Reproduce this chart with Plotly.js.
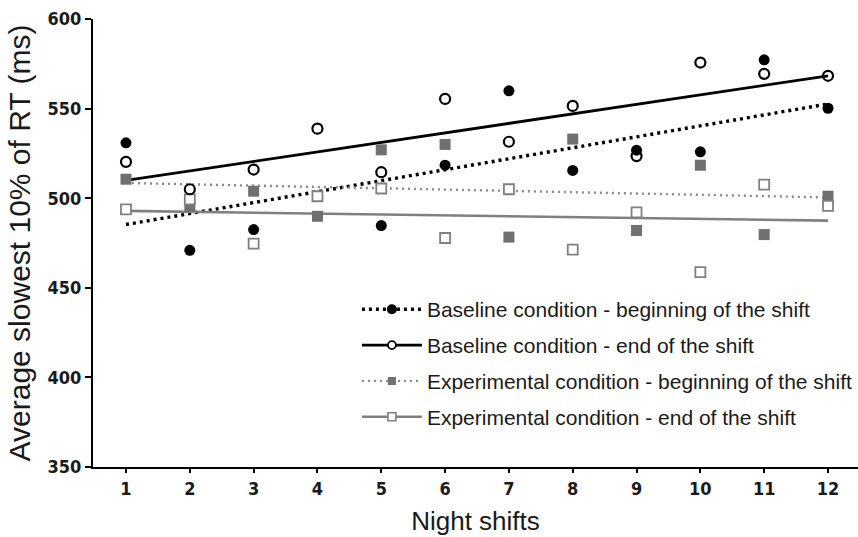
<!DOCTYPE html>
<html>
<head>
<meta charset="utf-8">
<script src="https://cdn.plot.ly/plotly-3.0.1.min.js"></script>
<style>
html,body{margin:0;padding:0;background:#fff;}
#chart{width:858px;height:537px;}
</style>
</head>
<body>
<div id="chart"></div>
<script>
// Night shift numbers
var shifts = [1, 2, 3, 4, 5, 6, 7, 8, 9, 10, 11, 12];
var tickLabels = ["1", "2", "3", "4", "5", "6", "7", "8", "9", "10", "11", "12"];

// Average slowest 10% of RT (ms)
var baselineBeginning = [530.9, 470.9, 482.5, null, 484.7, 518.4, 559.9, 515.5, 526.8, 525.9, 577.2, 550.2];
var baselineEnd = [520.3, 505.0, 516.0, 538.8, 514.5, 555.4, 531.5, 551.5, 523.5, 575.7, 569.4, 568.3];
var experimentalBeginning = [510.6, 495.7, 503.9, 489.9, 527.0, 530.0, 478.3, 533.0, 482.0, 518.4, 479.7, 501.1];
var experimentalEnd = [493.8, 499.4, 474.6, 501.1, 505.4, 477.8, 505.0, 471.3, 492.1, 458.7, 507.6, 495.7];

// Linear trend lines (values at first and last shift)
var trendX = [1, 12];
var baselineBeginningTrend = [485.3, 552.6];
var baselineEndTrend = [509.9, 568.3];
var experimentalBeginningTrend = [508.5, 500.4];
var experimentalEndTrend = [492.9, 487.5];

var seriesNames = [
  "Baseline condition - beginning of the shift",
  "Baseline condition - end of the shift",
  "Experimental condition - beginning of the shift",
  "Experimental condition - end of the shift"
];

var BLACK = "#000000";
var GRAY_FILL = "#707070";
var GRAY_LINE = "#808080";
var GRAY_DOT = "#8a8a8a";

var styles = [
  {line: {color: BLACK, width: 3.4, dash: "3px,4px"}, marker: {symbol: "circle", color: BLACK, size: 11, line: {width: 0}}, legMarker: {symbol: "circle", color: BLACK, size: 10, line: {width: 0}}},
  {line: {color: BLACK, width: 2.8, dash: "solid"}, marker: {symbol: "circle-open", color: BLACK, size: 10, line: {width: 2.2, color: BLACK}}, legMarker: {symbol: "circle", color: "#ffffff", size: 8, line: {width: 1.8, color: BLACK}}},
  {line: {color: GRAY_DOT, width: 2.4, dash: "2px,4px"}, marker: {symbol: "square", color: GRAY_FILL, size: 11, line: {width: 0}}, legMarker: {symbol: "square", color: GRAY_FILL, size: 8, line: {width: 0}}},
  {line: {color: GRAY_LINE, width: 2.6, dash: "solid"}, marker: {symbol: "square", color: "#ffffff", size: 10, line: {width: 1.8, color: GRAY_LINE}}, legMarker: {symbol: "square", color: "#ffffff", size: 8, line: {width: 1.6, color: GRAY_LINE}}}
];

var values = [baselineBeginning, baselineEnd, experimentalBeginning, experimentalEnd];
var trends = [baselineBeginningTrend, baselineEndTrend, experimentalBeginningTrend, experimentalEndTrend];

var traces = [];
// trend lines first (underneath)
for (var i = 0; i < 4; i++) {
  traces.push({
    x: trendX, y: trends[i], type: "scatter", mode: "lines",
    line: styles[i].line, showlegend: false, hoverinfo: "skip"
  });
}
// markers: drawing order gray filled, open squares, open circles, filled circles
var markerOrder = [2, 3, 1, 0];
markerOrder.forEach(function (i) {
  traces.push({
    x: shifts, y: values[i], type: "scatter", mode: "markers",
    marker: styles[i].marker, showlegend: false, name: seriesNames[i]
  });
});
// legend entries
for (var j = 0; j < 4; j++) {
  traces.push({
    x: [null], y: [null], type: "scatter", mode: "lines+markers",
    name: seriesNames[j], line: styles[j].line, marker: styles[j].legMarker,
    legendgroup: "g" + j, showlegend: true
  });
}

var tickFont = {family: "'Liberation Sans Narrow', 'Arial Narrow', 'DejaVu Sans Condensed', sans-serif", size: 18, color: "#1a1a1a", weight: "bold"};

var layout = {
  width: 858, height: 537,
  margin: {l: 93, r: 0, t: 19, b: 70, pad: 0},
  paper_bgcolor: "#ffffff", plot_bgcolor: "#ffffff",
  showlegend: true,
  legend: {
    x: 0.345, y: 0.397, xanchor: "left", yanchor: "top",
    font: {family: "'Liberation Sans', Arial, sans-serif", size: 21, color: "#1a1a1a"},
    bgcolor: "rgba(0,0,0,0)", borderwidth: 0,
    traceorder: "grouped", tracegroupgap: 5.5, itemwidth: 60
  },
  xaxis: {
    range: [0.483, 12.47],
    tickmode: "array", tickvals: shifts, ticktext: tickLabels,
    ticks: "outside", ticklen: 4, tickwidth: 2, tickcolor: "#000",
    showline: true, linecolor: "#000", linewidth: 2,
    showgrid: false, zeroline: false,
    tickfont: tickFont,
    title: {text: "Night shifts", font: {family: "'Liberation Sans', Arial, sans-serif", size: 26, color: "#1a1a1a"}, standoff: 14}
  },
  yaxis: {
    range: [350, 600],
    tickvals: [350, 400, 450, 500, 550, 600],
    ticks: "outside", ticklen: 6, tickwidth: 2, tickcolor: "#000",
    showline: true, linecolor: "#000", linewidth: 2,
    showgrid: false, zeroline: false,
    tickfont: tickFont,
    title: {text: "Average slowest 10% of RT (ms)", font: {family: "'Liberation Sans', Arial, sans-serif", size: 30, color: "#1a1a1a"}, standoff: 8}
  }
};

Plotly.newPlot("chart", traces, layout, {staticPlot: true, displayModeBar: false});
</script>
</body>
</html>
